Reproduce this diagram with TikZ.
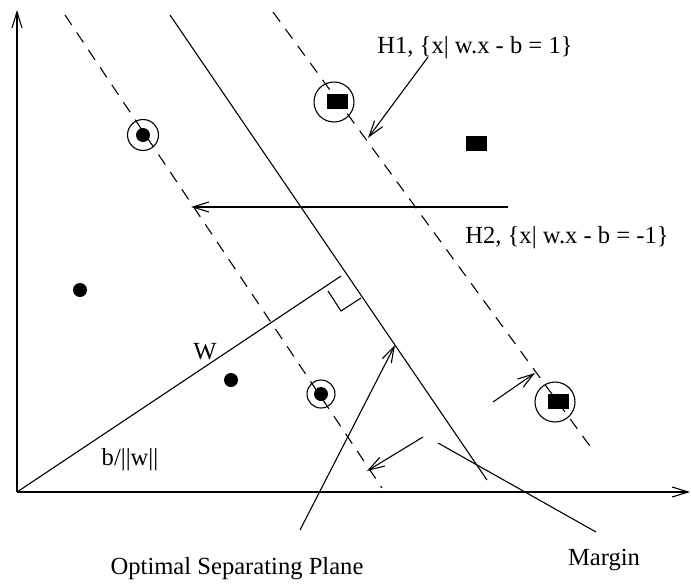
\documentclass[tikz,border=0pt]{standalone}
\usepackage{fontspec}
\setmainfont{Liberation Serif}
\usetikzlibrary{arrows.meta,positioning}

\begin{document}
\begin{tikzpicture}[x=0.5pt,y=-0.5pt,
  ln/.style={line width=0.55pt},
  hyp/.style={ln,dash pattern=on 6pt off 4.5pt},
  arr/.style={ln,-{Straight Barb[length=8pt,width=5pt]}},
  dotpt/.style={circle,fill,inner sep=0pt,minimum size=7pt},
  sqpt/.style={fill,inner sep=0pt,minimum width=10.5pt,minimum height=7.5pt},
  ring/.style={circle,draw,ln,inner sep=0pt,minimum size=#1},
  lab/.style={font=\fontsize{12.3}{14}\selectfont,inner sep=0pt}]
  \useasboundingbox (0,0) rectangle (691,584);
  % axes
  \coordinate (o) at (17,492); \coordinate (ytop) at (17,10); \coordinate (xend) at (690,492);
  \draw[arr] (o) -- (ytop); \draw[arr] (o) -- (xend);
  % hyperplanes H2, optimal plane, H1
  \coordinate (h2a) at (65,15);  \coordinate (h2b) at (382,488);
  \coordinate (spa) at (170,15); \coordinate (spb) at (487,480);
  \coordinate (h1a) at (273,12); \coordinate (h1b) at (595,453);
  \draw[hyp] (h2a) -- (h2b); \draw[ln] (spa) -- (spb); \draw[hyp] (h1a) -- (h1b);
  % normal vector w and right angle
  \coordinate (wend) at (341,276);
  \draw[ln] (o) -- (wend);
  \draw[ln] (328,291) -- (341,311) -- (361,298);
  % samples
  \node[dotpt] (p1) at (143,135) {}; \node[ring=15.5pt] (c1) at (p1) {};
  \node[dotpt] (p2) at (80,290) {};
  \node[dotpt] (p3) at (231,380) {};
  \node[dotpt] (p4) at (321,394) {}; \node[ring=14pt] (c4) at (p4) {};
  \node[sqpt] (q1) at (337,101) {}; \node[ring=20pt] (c5) at (334,102) {};
  \node[sqpt] (q2) at (476,143) {};
  \node[sqpt] (q3) at (558,401) {}; \node[ring=20pt] (c6) at (555,402) {};
  % labels
  \node[lab] (h1lab) at (475,48) {H1, \{x| w.x - b = 1\}};
  \node[lab] (h2lab) at (567,238) {H2, \{x| w.x - b = -1\}};
  \node[lab] (wlab) at (205,352) {W};
  \node[lab] (blab) at (130,460) {b/||w||};
  \node[lab] (oplab) at (237,569) {Optimal Separating Plane};
  \node[lab] (mlab) at (604,560) {Margin};
  % pointers
  \coordinate (h1src) at (428,57);  \coordinate (h1pt) at (368,138);
  \coordinate (h2src) at (508,207); \coordinate (h2pt) at (191,207);
  \coordinate (opsrc) at (300,530); \coordinate (oppt) at (395,345);
  \coordinate (msrc) at (596,532);  \coordinate (mpt) at (438,443);
  \coordinate (ma) at (423,437); \coordinate (mapt) at (367,471);
  \coordinate (mb) at (493,402); \coordinate (mbpt) at (535,373);
  \draw[arr] (h1src) -- (h1pt);
  \draw[arr] (h2src) -- (h2pt);
  \draw[arr] (opsrc) -- (oppt);
  \draw[ln] (msrc) -- (mpt);
  \draw[arr] (ma) -- (mapt);
  \draw[arr] (mb) -- (mbpt);
\end{tikzpicture}
\end{document}
